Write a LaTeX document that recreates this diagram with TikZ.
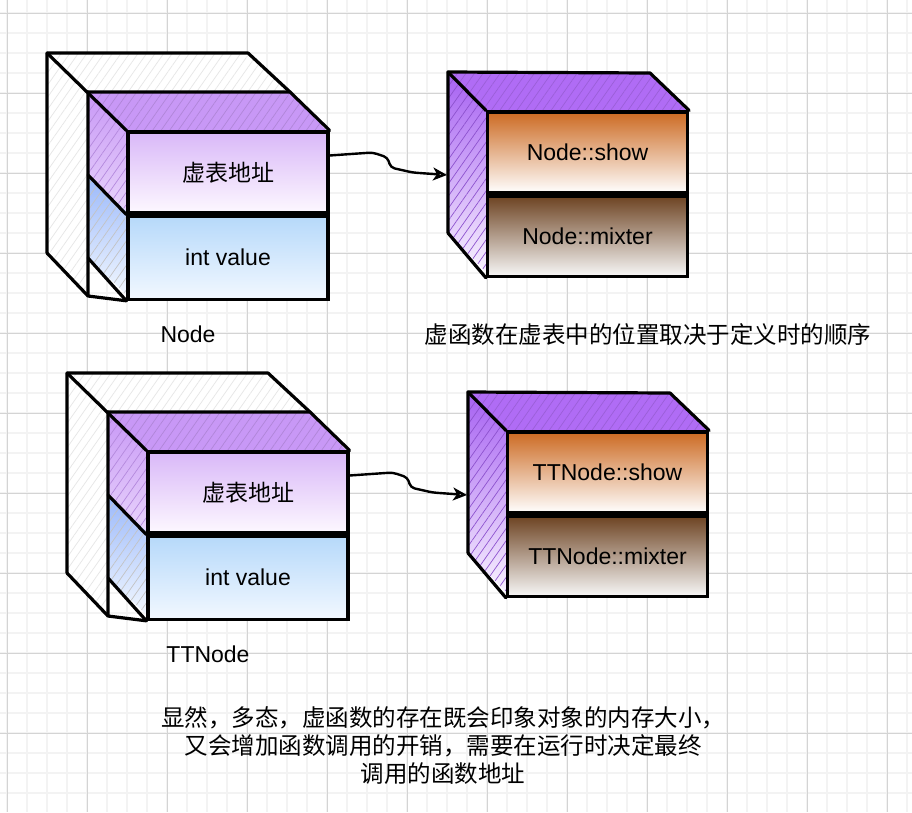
\documentclass[tikz,border=0pt]{standalone}
\usepackage{fontspec}
\setmainfont{Liberation Sans}
\newfontfamily\cjk{Noto Sans CJK SC}
\usepackage{tikz}
\usetikzlibrary{positioning, arrows.meta, calc, patterns.meta}
\definecolor{gridminor}{RGB}{243,243,243}
\definecolor{gridmajor}{RGB}{212,212,212}
\definecolor{hatchgray}{RGB}{230,230,230}
\definecolor{vptrtop}{RGB}{217,184,248}
\definecolor{vptrbot}{RGB}{253,248,255}
\definecolor{vptrface}{RGB}{200,152,246}
\definecolor{ivaltop}{RGB}{182,217,250}
\definecolor{ivalbot}{RGB}{242,248,255}
\definecolor{tblface}{RGB}{176,108,245}
\definecolor{tblside}{RGB}{166,96,242}
\definecolor{showtop}{RGB}{204,106,34}
\definecolor{mixtop}{RGB}{109,67,34}

\tikzset{
  edge/.style={line width=3.2pt, line join=round, line cap=round},
  face/.style={draw=black, line width=3.2pt, minimum width=200pt, inner sep=0pt,
    font=\fontsize{23}{28}\selectfont},
  hatch/.style={pattern={Lines[angle=55, distance=7pt, line width=0.7pt]}, pattern color=#1},
}

\begin{document}
\begin{tikzpicture}[x=1pt, y=-1pt]
    \useasboundingbox (0,0) rectangle (912,812);
    \fill[white] (0,0) rectangle (912,812);

    % Grille de fond
    \foreach \x in {7,27,...,907} \draw[gridminor, line width=1.5pt] (\x,0) -- (\x,812);
    \foreach \y in {13,33,...,793} \draw[gridminor, line width=1.5pt] (0,\y) -- (912,\y);
    \foreach \x in {7,87,...,887} \draw[gridmajor, line width=0.8pt] (\x,0) -- (\x,812);
    \foreach \y in {13,93,...,773} \draw[gridmajor, line width=0.8pt] (0,\y) -- (912,\y);

    % Objets et tables virtuelles (Format: dx/dy/classe/indice)
    \foreach \dx/\dy/\cls/\i in {0/0/Node/1, 20/320/TTNode/2} {
    \begin{scope}[shift={(\dx,\dy)}]
        % boîte arrière
        \path[fill=white, postaction={hatch=hatchgray}] (47,53) -- (248,53) -- (290,92) -- (88,92) -- cycle;
        \path[fill=white, postaction={hatch=hatchgray}] (47,53) -- (88,92) -- (88,296) -- (47,253) -- cycle;
        % faces latérales
        \path[fill=vptrface, postaction={hatch=vptrface!88!black}] (88,92) -- (290,92) -- (328,132) -- (128,132) -- cycle;
        \path[top color=vptrface, bottom color=vptrtop!60!white, postaction={hatch=vptrface!90!black}] (88,92) -- (128,132) -- (128,213) -- (88,175) -- cycle;
        \path[top color=ivaltop!85!blue, bottom color=ivalbot, postaction={hatch=hatchgray!85!black}] (88,175) -- (128,213) -- (128,296) -- (88,258) -- cycle;

        \node[face, minimum height=81pt, top color=vptrtop, bottom color=vptrbot] (vptr\i) at (228,172.5) {\cjk 虚表地址};
        \node[face, minimum height=83pt, top color=ivaltop, bottom color=ivalbot, below=0pt of vptr\i] (ival\i) {int value};

        \draw[edge] (47,253) -- (47,53) -- (248,53) -- (290,92);
        \draw[edge] (47,53) -- (vptr\i.north west);
        \draw[edge] (88,92) -- (290,92) -- (vptr\i.north east);
        \draw[edge] (88,92) -- (88,296) -- (ival\i.south west);
        \draw[edge] (47,253) -- (88,296);
        \draw[edge] (88,175) -- (vptr\i.south west);
        \draw[edge] (88,258) -- (ival\i.south west);
        \node[font=\fontsize{23}{28}\selectfont] (cls\i) at (188,334) {\cls};

        % table virtuelle
        \path[fill=tblface, postaction={hatch=tblface!88!black}] (448,72) -- (650,73) -- (688,112) -- (487,112) -- cycle;
        \path[top color=tblside, bottom color=tblside!8!white, postaction={hatch=tblside!85!black}] (448,72) -- (487,112) -- (487,273) -- (448,233) -- cycle;

        \node[face, minimum height=81pt, top color=showtop, bottom color=white] (show\i) at (587.5,152.5) {\cls::show};
        \node[face, minimum height=80pt, top color=mixtop, bottom color=white!97!black, below=0pt of show\i] (mixter\i) {\cls::mixter};

        \draw[edge] (448,233) -- (448,72) -- (650,73) -- (show\i.north east);
        \draw[edge] (448,72) -- (show\i.north west);
        \draw[edge] (448,233) -- (mixter\i.south west);
        \coordinate (tbl\i) at (447,175);

        % pointeur vers la table
        \draw[edge, line width=2.4pt, rounded corners=4pt, -{Stealth[open, length=14pt, width=13pt, inset=4pt]}]
            ([yshift=17pt]vptr\i.east) -- ++(43,-3) -- ++(15,5) -- ++(3,10) -- ++(22,5) -- (tbl\i);
    \end{scope}
    }

    % Commentaires
    \node[font=\cjk\fontsize{23.5}{28}\selectfont] (order) at (648,335) {虚函数在虚表中的位置取决于定义时的顺序};
    \node[font=\cjk\fontsize{23.5}{28}\selectfont, align=center] (note) at (443,746)
        {显然，多态，虚函数的存在既会印象对象的内存大小，\\又会增加函数调用的开销，需要在运行时决定最终\\调用的函数地址};
\end{tikzpicture}
\end{document}
